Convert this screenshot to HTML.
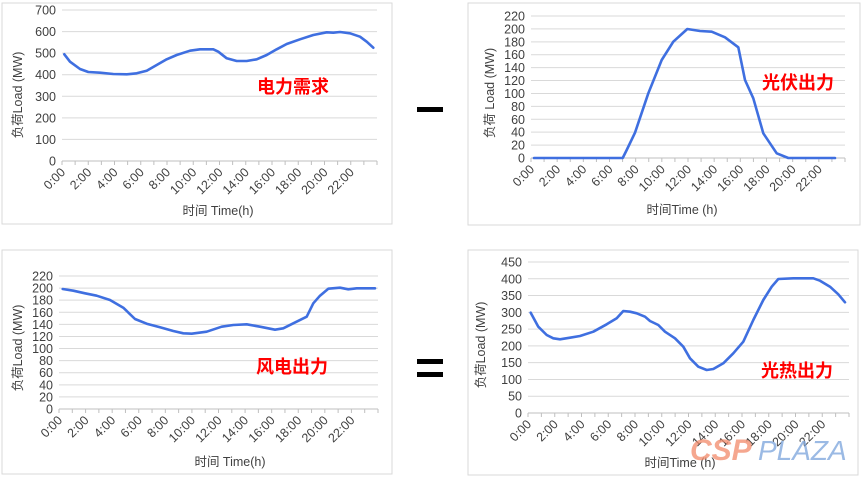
<!DOCTYPE html>
<html><head><meta charset="utf-8">
<style>
body{margin:0;background:#fff;}
svg{display:block;font-family:"Liberation Sans","Noto Sans CJK SC",sans-serif;}
.t{font-size:12.5px;fill:#404040;}
.red{font-size:18px;font-weight:bold;fill:#ff0000;font-family:"Noto Sans CJK SC",sans-serif;}
</style></head>
<body>
<svg id="s" width="866" height="479" viewBox="0 0 866 479" xmlns="http://www.w3.org/2000/svg">
<rect x="2" y="3" width="390" height="221" fill="none" stroke="#d9d9d9"/>
<rect x="468" y="3" width="392" height="222" fill="none" stroke="#d9d9d9"/>
<rect x="2" y="250" width="390" height="224" fill="none" stroke="#d9d9d9"/>
<rect x="468" y="250" width="390" height="225" fill="none" stroke="#d9d9d9"/>
<rect x="417" y="107" width="26" height="5" fill="#000"/>
<rect x="417" y="359" width="26" height="5" fill="#000"/>
<rect x="417" y="372" width="26" height="5" fill="#000"/>
<text class="red" x="257" y="93">电力需求</text>
<text class="red" x="762" y="89">光伏出力</text>
<text class="red" x="256" y="373">风电出力</text>
<text class="red" x="761" y="377">光热出力</text>
<text x="690" y="460" font-size="30" font-weight="bold" font-style="italic" fill="#f28a6a" opacity="0.75">CSP</text>
<text x="758" y="460" font-size="28" font-style="italic" fill="#7aa3dc" opacity="0.75">PLAZA</text>
</svg>
<script>
var S=document.getElementById('s'),NS='http://www.w3.org/2000/svg';
function el(n,a,txt){var e=document.createElementNS(NS,n);for(var k in a)e.setAttribute(k,a[k]);if(txt!=null)e.textContent=txt;S.insertBefore(e,S.firstChild);return e;}
function panel(o){
  var n=o.max/o.step, dy=(o.y0-o.yt)/n;
  for(var i=0;i<=n;i++){var y=o.y0-i*dy;
    if(i>0)el('line',{x1:o.xl,x2:o.xr,y1:y,y2:y,stroke:'#d9d9d9','stroke-width':1});
    el('text',{class:'t',x:o.xl-6,y:y+4.5,'text-anchor':'end'},String(i*o.step));}
  el('line',{x1:o.xl,x2:o.xr,y1:o.y0,y2:o.y0,stroke:'#bfbfbf'});
  var dx=(o.xr-o.xl)/24;
  for(var h=0;h<=24;h++){var x=o.xl+h*dx;el('line',{x1:x,x2:x,y1:o.y0,y2:o.y0+4,stroke:'#bfbfbf'});
    if(h%2==0&&h<24){el('text',{class:'t',x:x+4,y:o.y0+12,'text-anchor':'end',transform:'rotate(-45 '+(x+4)+' '+(o.y0+12)+')'},h+':00');}}
  el('text',{class:'t',x:o.tx,y:o.ty,'text-anchor':'middle'},o.title);
  el('text',{class:'t',x:o.yx,y:o.yy,'text-anchor':'middle',transform:'rotate(-90 '+o.yx+' '+o.yy+')'},o.ytitle);
  var p=o.pts.map(function(q){return (o.ox+q[0]/3).toFixed(1)+','+(o.oy+q[1]/3).toFixed(1)}).join(' ');
  var l=el('polyline',{points:p,fill:'none',stroke:'#3f6fe0','stroke-width':2.6,'stroke-linejoin':'round','stroke-linecap':'round'});
  S.appendChild(l);
}
panel({xl:62,xr:377,y0:161,yt:10,max:700,step:100,tx:218,ty:215,title:'时间 Time(h)',yx:22,yy:95,ytitle:'负荷Load (MW)',ox:0,oy:0,
pts:[[193,163],[210,185],[240,207],[265,216],[300,218],[340,222],[380,223],[410,220],[440,212],[470,195],[500,178],[530,165],[570,152],[600,148],[640,148],[655,155],[680,175],[710,183],[740,183],[770,178],[800,165],[830,148],[860,132],[900,118],[940,105],[980,97],[1000,98],[1020,96],[1050,100],[1080,110],[1100,125],[1120,143]]});
panel({xl:531,xr:845,y0:158,yt:16,max:220,step:20,tx:682,ty:214,title:'时间Time (h)',yx:494,yy:93,ytitle:'负荷 Load (MW)',ox:460,oy:0,
pts:[[222,474],[488,474],[500,450],[525,398],[565,280],[605,180],[640,125],[682,87],[720,93],[755,95],[795,112],[835,142],[855,240],[880,295],[910,400],[950,460],[985,474],[1125,474]]});
panel({xl:59,xr:378,y0:409,yt:276,max:220,step:20,tx:230,ty:466,title:'时间 Time(h)',yx:22,yy:348,ytitle:'负荷Load (MW)',ox:0,oy:245,
pts:[[188,132],[220,137],[255,145],[290,152],[330,165],[370,188],[405,222],[440,236],[480,247],[520,258],[550,265],[575,266],[620,260],[665,245],[700,240],[740,238],[780,245],[825,254],[850,250],[880,235],[920,215],[940,175],[960,152],[985,131],[1020,128],[1045,133],[1070,130],[1125,130]]});
panel({xl:528,xr:849,y0:413,yt:262,max:450,step:50,tx:680,ty:467,title:'时间Time (h)',yx:485,yy:345,ytitle:'负荷Load (MW)',ox:460,oy:245,
pts:[[212,203],[235,245],[260,270],[280,280],[300,283],[330,278],[360,273],[400,260],[440,238],[470,220],[490,198],[510,200],[530,205],[555,215],[570,228],[595,240],[615,260],[645,280],[670,305],[690,340],[715,365],[740,375],[760,372],[790,355],[820,325],[850,290],[880,225],[910,165],[935,125],[955,102],[1000,100],[1060,100],[1080,107],[1110,125],[1135,148],[1155,172]]});
</script>
</body></html>
